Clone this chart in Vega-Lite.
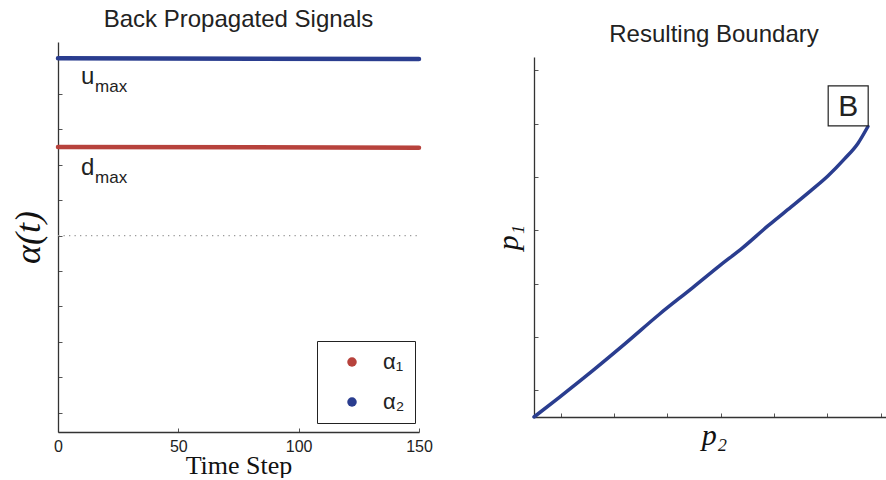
{
  "$schema": "https://vega.github.io/schema/vega-lite/v6.json",
  "background": "white",
  "padding": {"left": 10, "top": 8, "right": 0, "bottom": 0},
  "autosize": {"type": "pad"},
  "spacing": 115,
  "bounds": "flush",
  "center": true,
  "datasets": {
    "signals": [
      {"t": 0, "a": 5.0, "s": "α₂"},
      {"t": 150, "a": 4.98, "s": "α₂"},
      {"t": 0, "a": 2.5, "s": "α₁"},
      {"t": 150, "a": 2.48, "s": "α₁"}
    ],
    "zero": [
      {"t": 0, "a": 0},
      {"t": 150, "a": 0}
    ],
    "main": [
      {"t": 9.6, "a": 4.27, "txt": "u"},
      {"t": 9.6, "a": 1.7, "txt": "d"}
    ],
    "sub": [
      {"t": 15.4, "a": 4.06, "txt": "max"},
      {"t": 15.4, "a": 1.49, "txt": "max"}
    ],
    "boundary": [
      {"x": 0.0, "y": 0.0},
      {"x": 0.475, "y": 0.37},
      {"x": 1.101, "y": 0.87},
      {"x": 1.726, "y": 1.39},
      {"x": 2.351, "y": 1.927},
      {"x": 2.977, "y": 2.426},
      {"x": 3.477, "y": 2.833},
      {"x": 3.916, "y": 3.176},
      {"x": 4.385, "y": 3.583},
      {"x": 4.822, "y": 3.94},
      {"x": 5.197, "y": 4.25},
      {"x": 5.51, "y": 4.52},
      {"x": 5.822, "y": 4.84},
      {"x": 6.073, "y": 5.13},
      {"x": 6.261, "y": 5.447}
    ],
    "box": [
      {"x": 5.891, "y": 5.835, "label": "B"}
    ]
  },
  "hconcat": [
    {
      "width": 361,
      "height": 390,
      "title": {"text": "Back Propagated Signals"},
      "encoding": {
        "x": {
          "field": "t", "type": "quantitative",
          "scale": {"domain": [0, 150], "nice": false, "zero": false},
          "axis": {"values": [0, 50, 100, 150], "title": "Time Step", "titleFontSize": 26, "titlePadding": -2, "labelPadding": 10, "labelFlush": false}
        },
        "y": {
          "field": "a", "type": "quantitative",
          "scale": {"domain": [-5.54, 5.46], "nice": false, "zero": false},
          "axis": {"values": [-5, -4, -3, -2, -1, 0, 1, 2, 3, 4, 5], "labels": false, "title": "α(t)", "titleFontSize": 36, "titleFontStyle": "italic", "titlePadding": 10}
        }
      },
      "layer": [
        {
          "data": {"name": "zero"},
          "mark": {"type": "line", "color": "#9a9a9a", "strokeWidth": 1.3, "strokeDash": [1.3, 4.2]},
          "encoding": {}
        },
        {
          "data": {"name": "signals"},
          "mark": {"type": "line", "strokeWidth": 4.5, "strokeCap": "round"},
          "encoding": {
            "color": {
              "field": "s", "type": "nominal",
              "scale": {"domain": ["α₁", "α₂"], "range": ["#b7423c", "#2a3d8f"]},
              "legend": {
                "orient": "none", "legendX": 259, "legendY": 299, "title": null,
                "symbolType": "circle", "symbolSize": 90, "symbolStrokeWidth": 0,
                "labelFont": "Liberation Sans", "labelFontSize": 22, "labelColor": "#222",
                "strokeColor": "#222", "fillColor": "white", "padding": 10, "rowPadding": 18,
                "symbolOffset": 14, "labelOffset": 20,
                "encode": {
                  "symbols": {
                    "update": {
                      "fill": [{"test": "datum.value === 'α₁'", "value": "#b7423c"}, {"value": "#2a3d8f"}],
                      "fillOpacity": {"value": 1}
                    }
                  }
                }
              }
            }
          }
        },
        {
          "data": {"name": "main"},
          "mark": {"type": "text", "align": "left", "baseline": "alphabetic", "fontSize": 24, "font": "Liberation Sans", "color": "#222"},
          "encoding": {"text": {"field": "txt"}}
        },
        {
          "data": {"name": "sub"},
          "mark": {"type": "text", "align": "left", "baseline": "alphabetic", "fontSize": 17, "font": "Liberation Sans", "color": "#222"},
          "encoding": {"text": {"field": "txt"}}
        }
      ]
    },
    {
      "width": 360,
      "height": 360,
      "title": {"text": "Resulting Boundary"},
      "encoding": {
        "x": {
          "field": "x", "type": "quantitative",
          "scale": {"domain": [0, 6.75], "nice": false, "zero": false},
          "axis": {"values": [0.5, 1.5, 2.5, 3.5, 4.5, 5.5, 6.5], "labels": false, "title": "p₂", "titleFontSize": 30, "titleFontStyle": "italic", "titlePadding": 3}
        },
        "y": {
          "field": "y", "type": "quantitative",
          "scale": {"domain": [0, 6.75], "nice": false, "zero": false},
          "axis": {"values": [0.5, 1.5, 2.5, 3.5, 4.5, 5.5, 6.5], "labels": false, "title": "p₁", "titleFontSize": 30, "titleFontStyle": "italic", "titlePadding": 10}
        }
      },
      "layer": [
        {
          "data": {"name": "boundary"},
          "mark": {"type": "line", "color": "#2a3d8f", "strokeWidth": 3.5, "strokeCap": "round", "interpolate": "monotone"},
          "encoding": {}
        },
        {
          "data": {"name": "box"},
          "mark": {"type": "point", "shape": "square", "size": 1600, "filled": true, "fill": "white", "fillOpacity": 1, "stroke": "#222", "strokeWidth": 1.2, "opacity": 1},
          "encoding": {}
        },
        {
          "data": {"name": "box"},
          "mark": {"type": "text", "align": "center", "baseline": "middle", "fontSize": 30, "font": "Liberation Sans", "color": "#222", "dy": 1},
          "encoding": {"text": {"field": "label"}}
        }
      ]
    }
  ],
  "config": {
    "view": {"stroke": null},
    "font": "Liberation Sans",
    "axis": {
      "grid": false, "domainColor": "#333", "domainWidth": 1.3, "tickColor": "#555", "tickSize": -4, "tickWidth": 1,
      "labelFont": "Liberation Sans", "labelFontSize": 16, "labelColor": "#222",
      "titleFont": "Liberation Serif", "titleFontWeight": "normal", "titleColor": "#111"
    },
    "title": {"font": "Liberation Sans", "fontSize": 24, "fontWeight": "normal", "color": "#222", "offset": 10, "anchor": "middle", "baseline": "alphabetic"}
  }
}
